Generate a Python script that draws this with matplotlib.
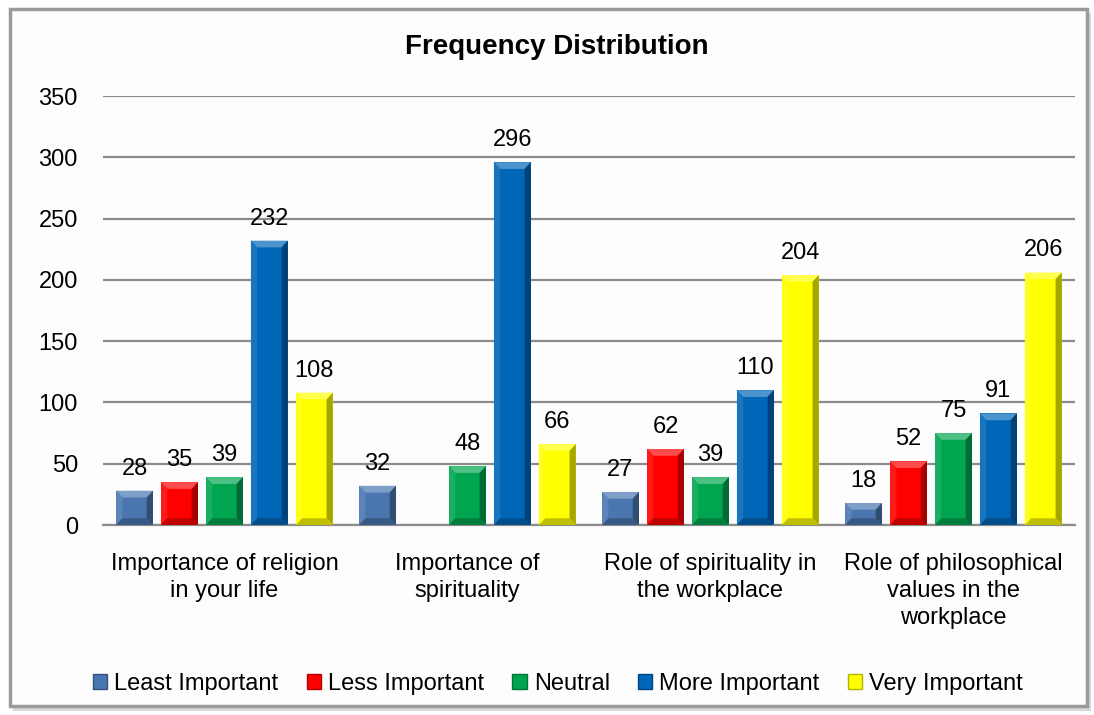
import matplotlib.pyplot as plt
import numpy as np
from matplotlib.patches import Patch, Polygon, Rectangle
from matplotlib.colors import to_rgb

plt.rcParams['font.family'] = ['Liberation Sans', 'DejaVu Sans']

categories = ['Importance of religion\nin your life',
              'Importance of\nspirituality',
              'Role of spirituality in\nthe workplace',
              'Role of philosophical\nvalues in the\nworkplace']
series = ['Least Important', 'Less Important', 'Neutral', 'More Important', 'Very Important']
least = [28, 32, 27, 18]
less = [35, np.nan, 62, 52]
neutral = [39, 48, 39, 75]
more = [232, 296, 110, 91]
very = [108, 66, 204, 206]
colors = ['#4a76b0', '#ff0000', '#00a550', '#0066b8', '#ffff00']
yticks = [0, 50, 100, 150, 200, 250, 300, 350]


def mix(c, other, t):
    c = np.array(to_rgb(c))
    return tuple(c * (1 - t) + np.array(other) * t)


def bevel(ax, bar, color):
    # fake Excel "bevel" look: light top/left facets, dark right/bottom facets
    x0 = bar.get_x()
    w = bar.get_width()
    h = bar.get_height()
    if not np.isfinite(h) or h <= 0:
        return
    x1 = x0 + w
    dx = w * 0.17
    dy = min(5.5, h / 2.5)
    facets = [
        ([(x0, h), (x1, h), (x1 - dx, h - dy), (x0 + dx, h - dy)], mix(color, (1, 1, 1), 0.30)),
        ([(x0, 0), (x0, h), (x0 + dx, h - dy), (x0 + dx, dy)], mix(color, (1, 1, 1), 0.10)),
        ([(x1, 0), (x1, h), (x1 - dx, h - dy), (x1 - dx, dy)], mix(color, (0, 0, 0), 0.35)),
        ([(x0, 0), (x1, 0), (x1 - dx, dy), (x0 + dx, dy)], mix(color, (0, 0, 0), 0.25)),
    ]
    for pts, fc in facets:
        ax.add_patch(Polygon(pts, closed=True, facecolor=fc, edgecolor='none', zorder=3))


fig = plt.figure(figsize=(10.94, 7.15), dpi=100)

# chart frame with a soft shadow
fig.patches.append(Rectangle((0.012, 0.006), 0.985, 0.976, transform=fig.transFigure,
                             facecolor='#d8d8d8', edgecolor='none', zorder=-3))
fig.patches.append(Rectangle((0.009, 0.012), 0.985, 0.975, transform=fig.transFigure,
                             facecolor='#fdfdfd', edgecolor='#9a9a9a', linewidth=2.5, zorder=-2))

ax = fig.add_axes([0.0941, 0.2657, 0.8885, 0.600])
ax.set_facecolor('none')

x = np.arange(len(categories))
step = 0.185
width = 0.152
data = [least, less, neutral, more, very]
for i, (vals, name, col) in enumerate(zip(data, series, colors)):
    bars = ax.bar(x + (i - 2) * step, vals, width, color=col, label=name, zorder=2)
    for b, v in zip(bars, vals):
        if np.isnan(v):
            continue
        bevel(ax, b, col)
        ax.annotate(f'{v:g}', (b.get_x() + b.get_width() / 2, v), xytext=(0, 8),
                    textcoords='offset points', ha='center', va='bottom', fontsize=17)

ax.set_xlim(-0.5, 3.5)
ax.set_ylim(0, 350)
ax.set_yticks(yticks)
ax.set_xticks(x)
ax.set_xticklabels(categories, fontsize=17, linespacing=1.3)
ax.tick_params(axis='y', length=0, pad=18, labelsize=17)
ax.tick_params(axis='x', length=0, pad=20)
ax.grid(axis='y', color='#8c8c8c', linewidth=1.6, zorder=1)
for s in ['left', 'right', 'top']:
    ax.spines[s].set_visible(False)
ax.spines['bottom'].set_color('#8c8c8c')
ax.spines['bottom'].set_linewidth(1.6)

fig.text(0.509, 0.934, 'Frequency Distribution', ha='center', va='center',
         fontsize=20, fontweight='bold')

handles = [Patch(facecolor=c, edgecolor=mix(c, (0, 0, 0), 0.3)) for c in colors]
fig.legend(handles, series, loc='center', bbox_to_anchor=(0.51, 0.0434), ncol=5,
           frameon=False, fontsize=17, handlelength=0.6, handleheight=0.6,
           handletextpad=0.3, columnspacing=1.2)

fig.savefig('out.png', dpi=100)
